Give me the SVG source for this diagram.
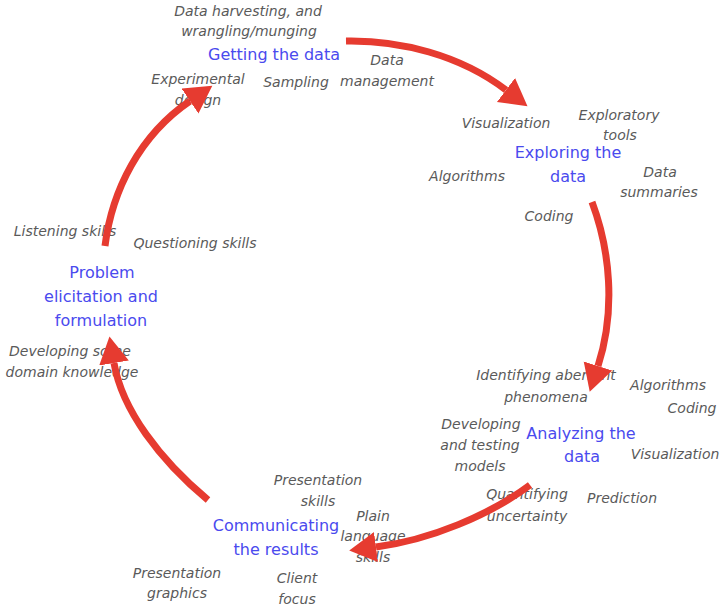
<svg xmlns="http://www.w3.org/2000/svg" width="724" height="614" viewBox="0 0 724 614">
<style>
.h{font-family:"DejaVu Sans","Liberation Sans",sans-serif;font-size:16px;fill:#4a4aee;text-anchor:middle}
.l{font-family:"DejaVu Sans","Liberation Sans",sans-serif;font-size:14px;font-style:italic;fill:#5a5a5a;text-anchor:middle}
.c{fill:none;stroke:#e63b30;stroke-width:7;marker-end:url(#ah)}
</style>
<defs>
<marker id="ah" markerUnits="userSpaceOnUse" markerWidth="30" markerHeight="32" refX="0" refY="15" orient="auto" viewBox="0 0 30 32">
<path d="M0,0 L27,15 L0,30 z" fill="#e63b30"/>
</marker>
</defs>
<rect width="724" height="614" fill="#fff"/>
<g id="getting-data">
<text class="l" x="248" y="16">Data harvesting, and</text>
<text class="l" x="249" y="36">wrangling/munging</text>
<text class="h" x="274" y="60">Getting the data</text>
<text class="l" x="387" y="65">Data</text>
<text class="l" x="387" y="86">management</text>
<text class="l" x="296" y="87">Sampling</text>
<text class="l" x="198" y="84">Experimental</text>
<text class="l" x="198" y="105">design</text>
</g>
<g id="exploring-data">
<text class="l" x="506" y="128">Visualization</text>
<text class="l" x="619" y="120">Exploratory</text>
<text class="l" x="620" y="140">tools</text>
<text class="h" x="568" y="158">Exploring the</text>
<text class="h" x="568" y="182">data</text>
<text class="l" x="467" y="181">Algorithms</text>
<text class="l" x="660" y="177">Data</text>
<text class="l" x="659" y="197">summaries</text>
<text class="l" x="549" y="221">Coding</text>
</g>
<g id="analyzing-data">
<text class="l" x="546" y="380">Identifying aberrant</text>
<text class="l" x="546" y="402">phenomena</text>
<text class="l" x="668" y="390">Algorithms</text>
<text class="l" x="692" y="413">Coding</text>
<text class="l" x="481" y="429">Developing</text>
<text class="l" x="480" y="450">and testing</text>
<text class="l" x="480" y="471">models</text>
<text class="h" x="581" y="439">Analyzing the</text>
<text class="h" x="582" y="462">data</text>
<text class="l" x="675" y="459">Visualization</text>
<text class="l" x="527" y="499">Quantifying</text>
<text class="l" x="527" y="521">uncertainty</text>
<text class="l" x="622" y="503">Prediction</text>
</g>
<g id="communicating-results">
<text class="l" x="318" y="485">Presentation</text>
<text class="l" x="318" y="506">skills</text>
<text class="l" x="373" y="521">Plain</text>
<text class="l" x="373" y="541">language</text>
<text class="l" x="373" y="562">skills</text>
<text class="h" x="276" y="531">Communicating</text>
<text class="h" x="276" y="555">the results</text>
<text class="l" x="177" y="578">Presentation</text>
<text class="l" x="177" y="598">graphics</text>
<text class="l" x="297" y="583">Client</text>
<text class="l" x="297" y="604">focus</text>
</g>
<g id="problem-formulation">
<text class="l" x="65" y="236">Listening skills</text>
<text class="l" x="195" y="248">Questioning skills</text>
<text class="h" x="102" y="278">Problem</text>
<text class="h" x="101" y="302">elicitation and</text>
<text class="h" x="101" y="326">formulation</text>
<text class="l" x="70" y="356">Developing some</text>
<text class="l" x="72" y="377">domain knowledge</text>
</g>
<g id="connectors">
<path class="c" d="M346,41 C400,40 460,55 506,90"/>
<path class="c" d="M592,202 C610,250 616,310 598,366"/>
<path class="c" d="M530,485 C490,515 430,540 376,547"/>
<path class="c" d="M208,500 C160,460 122,410 114,363"/>
<path class="c" d="M105,246 C112,190 140,135 190,101"/>
</g>
</svg>
